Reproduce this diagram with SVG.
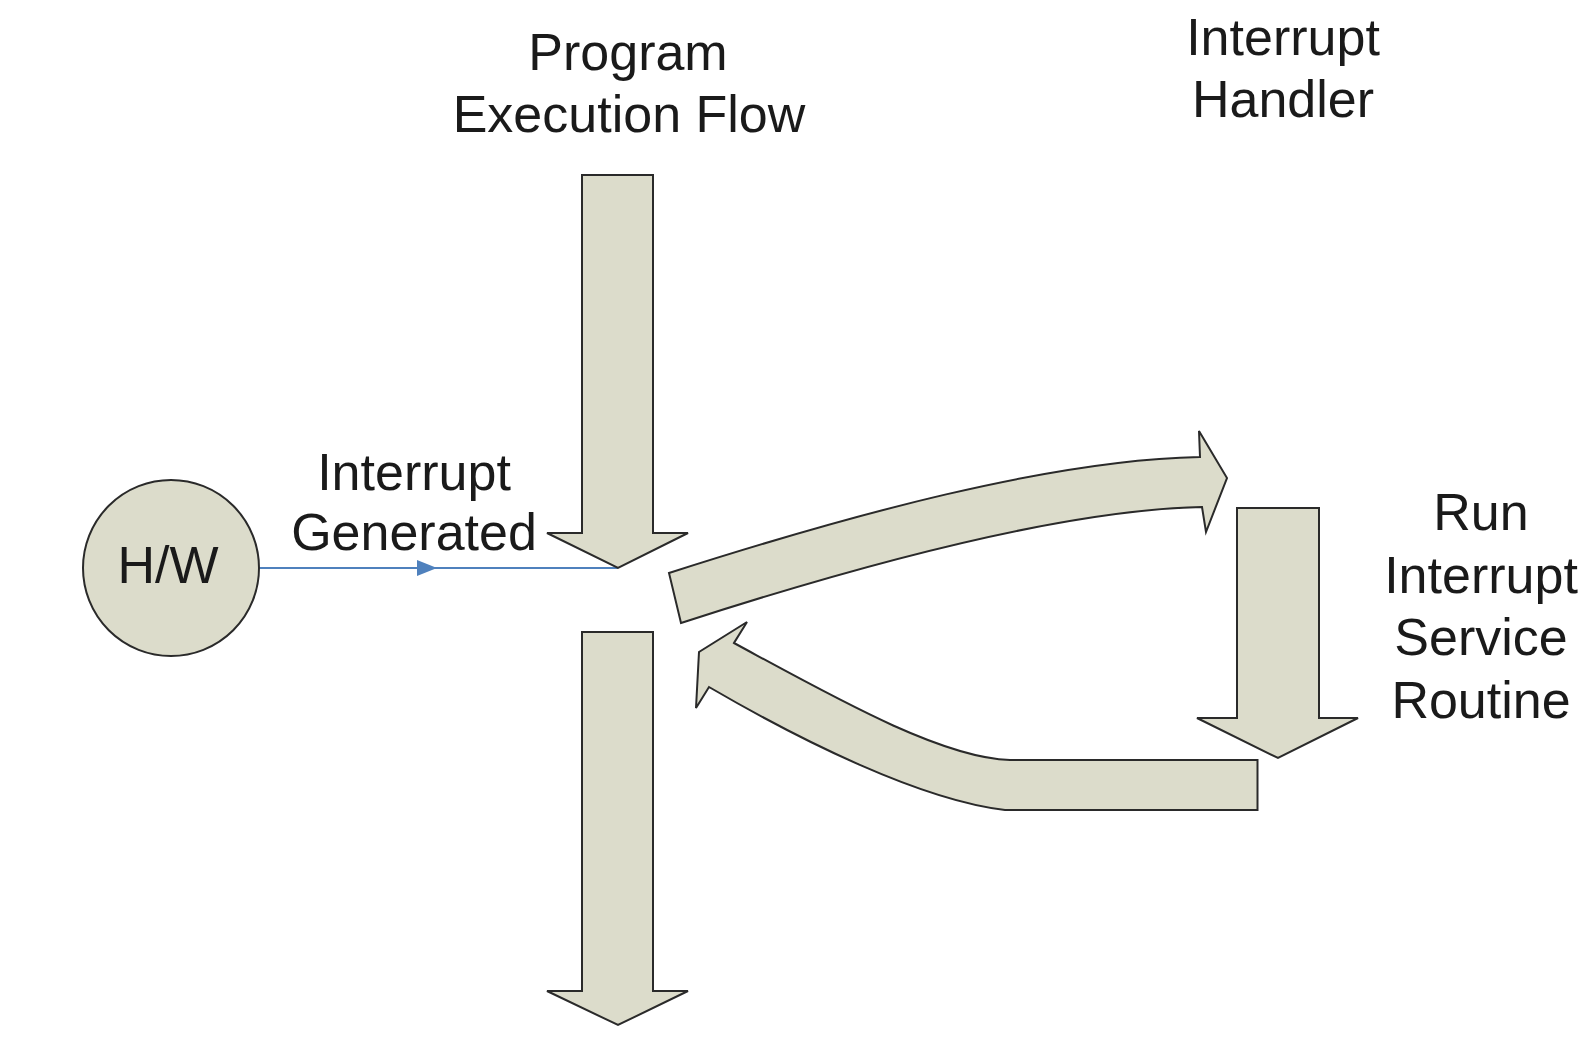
<svg xmlns="http://www.w3.org/2000/svg" width="1594" height="1060" viewBox="0 0 1594 1060">
  <defs>
    <style>
      .shape { fill: #dcdccb; stroke: #2a2a2a; stroke-width: 2; stroke-linejoin: miter; }
      .lbl { font-family: "Liberation Sans", Arial, sans-serif; font-size: 52px; fill: #1a1a1a; text-anchor: middle; }
      .conn { fill: none; stroke: #4f81bd; stroke-width: 2; }
    </style>
    <marker id="tri" markerWidth="20" markerHeight="16" refX="10" refY="8" orient="auto" markerUnits="userSpaceOnUse">
      <path d="M0,0 L20,8 L0,16 Z" fill="#4f81bd"/>
    </marker>
  </defs>
  <rect width="1594" height="1060" fill="#ffffff"/>

  <g id="titles">
    <text class="lbl" x="628" y="70">Program</text>
    <text class="lbl" x="629" y="132">Execution Flow</text>
    <text class="lbl" x="1283" y="55">Interrupt</text>
    <text class="lbl" x="1283" y="117">Handler</text>
  </g>

  <g id="connectors">
    <path class="conn" d="M259,568 L427,568 L618,568" marker-mid="url(#tri)"/>
    <text class="lbl" x="414" y="490">Interrupt</text>
    <text class="lbl" x="414" y="550">Generated</text>
  </g>

  <g id="hw">
    <circle class="shape" cx="171" cy="568" r="88"/>
    <text class="lbl" x="168" y="583">H/W</text>
  </g>

  <g id="flow-top">
    <path class="shape" d="M582,175 L653,175 L653,533 L688,533 L618,568 L547,533 L582,533 Z"/>
  </g>

  <g id="flow-bottom">
    <path class="shape" d="M582,632 L653,632 L653,991 L688,991 L618,1025 L547,991 L582,991 Z"/>
  </g>

  <g id="to-handler">
    <path class="shape" d="M669,573 C850,515 1050,460 1200,457 L1199,431 L1227,478 L1206,532 L1202,507 C1060,510 860,565 681,623 Z"/>
  </g>

  <g id="isr">
    <path class="shape" d="M1237,508 L1319,508 L1319,718 L1358,718 L1278,758 L1197,718 L1237,718 Z"/>
    <text class="lbl" x="1481" y="530">Run</text>
    <text class="lbl" x="1481" y="593">Interrupt</text>
    <text class="lbl" x="1481" y="655">Service</text>
    <text class="lbl" x="1481" y="718">Routine</text>
  </g>

  <g id="return">
    <path class="shape" d="M1257.5,760 L1010,760 C940,758 830,695 734,643 L747,622 L699,652 L696,708 L709,687 C800,740 920,800 1005,810 L1257.5,810 Z"/>
  </g>
</svg>
